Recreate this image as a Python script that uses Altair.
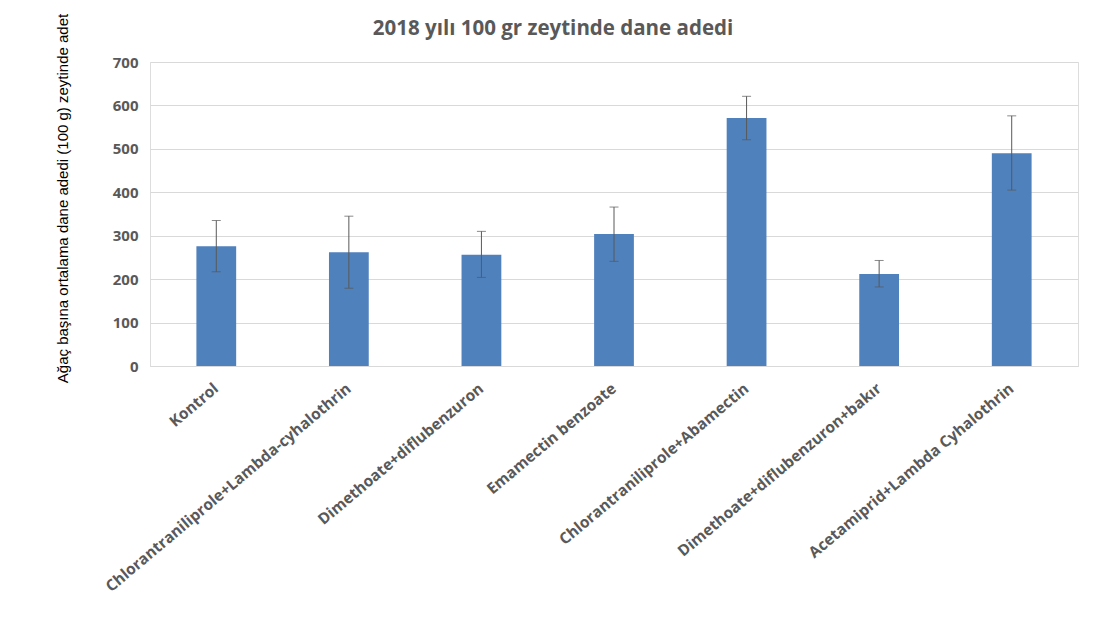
import altair as alt
import pandas as pd

categories = [
    "Kontrol",
    "Chlorantraniliprole+Lambda-cyhalothrin",
    "Dimethoate+diflubenzuron",
    "Emamectin benzoate",
    "Chlorantraniliprole+Abamectin",
    "Dimethoate+diflubenzuron+bakır",
    "Acetamiprid+Lambda Cyhalothrin",
]
means = [276, 262, 256, 304, 571, 212, 490]
err_low = [217, 179, 204, 241, 521, 182, 405]
err_high = [335, 345, 310, 366, 621, 243, 576]
y_ticks = [0, 100, 200, 300, 400, 500, 600, 700]

df = pd.DataFrame({"cat": categories, "mean": means, "lo": err_low, "hi": err_high})

x_enc = alt.X(
    "cat:N",
    sort=categories,
    scale=alt.Scale(paddingInner=0.7, paddingOuter=0.35),
    axis=alt.Axis(
        title=None,
        labelAngle=-40,
        labelAlign="right",
        labelBaseline="middle",
        labelFont="Open Sans",
        labelFontWeight="bold",
        labelFontSize=15.5,
        labelColor="#595959",
        labelPadding=20,
        ticks=False,
        domainColor="#d9d9d9",
        domainWidth=1,
        labelLimit=500,
    ),
)

bars = alt.Chart(df).mark_bar(color="#4f81bd").encode(
    x=x_enc,
    y=alt.Y(
        "mean:Q",
        scale=alt.Scale(domain=[0, 700], nice=False),
        axis=alt.Axis(
            values=y_ticks,
            title="Ağaç başına ortalama dane adedi (100 g) zeytinde adet",
            titleFont="Liberation Sans",
            titleFontSize=15,
            titleFontWeight="normal",
            titleColor="#000000",
            titleX=-88,
            titleY=136,
            titleAngle=270,
            titleAlign="center",
            titleBaseline="middle",
            labelFont="Open Sans",
            labelFontWeight="bold",
            labelFontSize=15,
            labelColor="#595959",
            labelPadding=12,
            ticks=False,
            domain=False,
            gridColor="#d9d9d9",
            gridWidth=1,
        ),
    ),
)

rules = alt.Chart(df).mark_rule(color="#595959", strokeWidth=1).encode(
    x=alt.X("cat:N", sort=categories),
    y="lo:Q",
    y2="hi:Q",
)
cap_lo = alt.Chart(df).mark_tick(color="#595959", size=9, thickness=1).encode(
    x=alt.X("cat:N", sort=categories),
    y="lo:Q",
)
cap_hi = alt.Chart(df).mark_tick(color="#595959", size=9, thickness=1).encode(
    x=alt.X("cat:N", sort=categories),
    y="hi:Q",
)

chart = (
    alt.layer(bars, rules, cap_lo, cap_hi)
    .properties(
        width=928,
        height=304,
        title=alt.TitleParams(
            "2018 yılı 100 gr zeytinde dane adedi",
            font="Open Sans",
            fontSize=20.5,
            fontWeight="bold",
            color="#595959",
            anchor="middle",
            frame="group",
            dx=-61,
            dy=26,
            offset=0,
        ),
        autosize=alt.AutoSizeParams(type="none"),
        padding={"left": 142, "top": 54, "right": 14, "bottom": 250},
    )
    .configure_view(strokeWidth=0)
    .configure(background="white")
)

chart.save("out.html", embed_options={"renderer": "svg", "actions": False})
